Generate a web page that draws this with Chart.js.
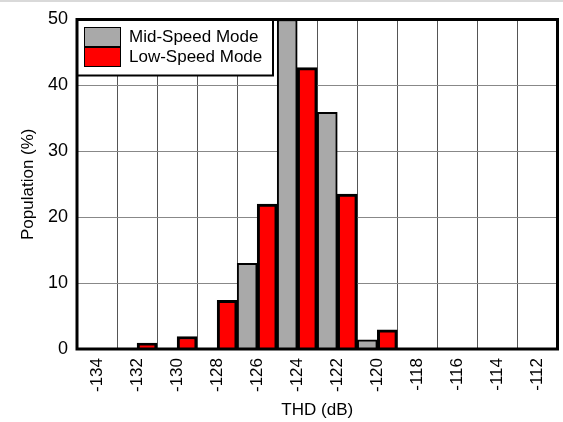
<!DOCTYPE html>
<html>
<head>
<meta charset="utf-8">
<script src="https://cdn.jsdelivr.net/npm/chart.js@4.4.0/dist/chart.umd.min.js"></script>
<style>
  html, body { margin: 0; padding: 0; background: #fff; }
  canvas { display: block; }
</style>
</head>
<body>
<canvas id="thdChart" width="563" height="422"></canvas>
<script>
// THD histogram bins (dB) and population per bin (%)
const thdBins = ['-134', '-132', '-130', '-128', '-126', '-124', '-122', '-120', '-118', '-116', '-114', '-112'];
const midSpeed = [0, 0, 0, 0, 13.0, 50, 35.9, 1.4, 0, 0, 0, 0];
const lowSpeed = [0, 0.9, 1.9, 7.4, 22.0, 42.7, 23.5, 2.9, 0, 0, 0, 0];
const yTicks = [0, 10, 20, 30, 40, 50];

const seriesNames = ['Mid-Speed Mode', 'Low-Speed Mode'];
const seriesColors = ['#a9a9a9', '#ff0000'];

const fontFamily = '"Liberation Sans", Arial, sans-serif';

// White page with a faint line along the top edge
const background = {
    id: 'background',
    beforeDraw(chart) {
        const c = chart.ctx;
        c.save();
        c.fillStyle = '#fff';
        c.fillRect(0, 0, chart.width, chart.height);
        c.strokeStyle = '#d9d9d9';
        c.lineWidth = 2;
        c.beginPath();
        c.moveTo(0, 1);
        c.lineTo(chart.width, 1);
        c.stroke();
        c.restore();
    }
};

// Boxed legend in the top-left corner plus the heavy frame round the plot
const frameAndLegend = {
    id: 'frameAndLegend',
    afterDraw(chart) {
        const c = chart.ctx;
        const a = chart.chartArea;
        c.save();

        // legend box
        const bx = a.left, by = a.top, bw = 196, bh = 56;
        c.fillStyle = '#fff';
        c.fillRect(bx, by, bw, bh);
        c.strokeStyle = '#000';
        c.lineWidth = 2;
        c.strokeRect(bx, by, bw, bh);

        c.font = '17px ' + fontFamily;
        c.textBaseline = 'middle';
        c.textAlign = 'left';
        for (let i = 0; i < seriesNames.length; i++) {
            const sy = Math.round(by + 7) + i * 20;
            c.fillStyle = seriesColors[i];
            c.fillRect(bx + 7, sy, 37, 20);
            c.lineWidth = 1;
            c.strokeStyle = '#000';
            c.strokeRect(bx + 7.5, sy + 0.5, 36, 19);
            c.fillStyle = '#000';
            c.fillText(seriesNames[i], bx + 52, sy + 10);
        }

        // plot frame
        c.lineWidth = 3;
        c.strokeStyle = '#000';
        c.strokeRect(a.left, a.top, a.right - a.left, a.bottom - a.top);
        c.restore();
    }
};

// keep tick-label overhang from shrinking the plot area
function fixedBox(size, key) {
    return function (scale) {
        scale[key] = size;
        scale.paddingLeft = 0;
        scale.paddingRight = 0;
        scale.paddingTop = 0;
        scale.paddingBottom = 0;
    };
}

const ctx = document.getElementById('thdChart').getContext('2d');
const chart = new Chart(ctx, {
    type: 'bar',
    data: {
        labels: thdBins,
        datasets: [{
            label: seriesNames[0],
            data: midSpeed,
            backgroundColor: seriesColors[0],
            borderColor: '#000',
            borderWidth: 2
        }, {
            label: seriesNames[1],
            data: lowSpeed,
            backgroundColor: seriesColors[1],
            borderColor: '#000',
            borderWidth: 3
        }]
    },
    options: {
        responsive: false,
        animation: false,
        devicePixelRatio: 1,
        layout: {
            padding: { top: 19.5, right: 5.5, left: 0, bottom: 0 }
        },
        datasets: {
            bar: { categoryPercentage: 1.0, barPercentage: 1.0 }
        },
        plugins: {
            legend: { display: false },
            tooltip: { enabled: false }
        },
        scales: {
            x: {
                offset: true,
                grid: { color: '#555', lineWidth: 1, drawTicks: false, offset: true },
                border: { display: false },
                ticks: {
                    color: '#000',
                    font: { family: fontFamily, size: 17 },
                    minRotation: 90,
                    maxRotation: 90,
                    padding: 9
                },
                title: {
                    display: true,
                    text: 'THD (dB)',
                    color: '#000',
                    font: { family: fontFamily, size: 17 },
                    padding: { top: 0, bottom: 1 }
                },
                afterFit: fixedBox(73, 'height')
            },
            y: {
                min: 0,
                max: 50,
                grid: { color: '#888', lineWidth: 1, drawTicks: false },
                border: { display: false },
                afterBuildTicks(scale) {
                    scale.ticks = yTicks.map(v => ({ value: v }));
                },
                ticks: {
                    color: '#000',
                    font: { family: fontFamily, size: 18 },
                    padding: 9
                },
                title: {
                    display: true,
                    text: 'Population (%)',
                    color: '#000',
                    font: { family: fontFamily, size: 17 },
                    padding: { top: 18, bottom: 0 }
                },
                afterFit: fixedBox(77, 'width')
            }
        }
    },
    plugins: [background, frameAndLegend]
});
</script>
</body>
</html>
